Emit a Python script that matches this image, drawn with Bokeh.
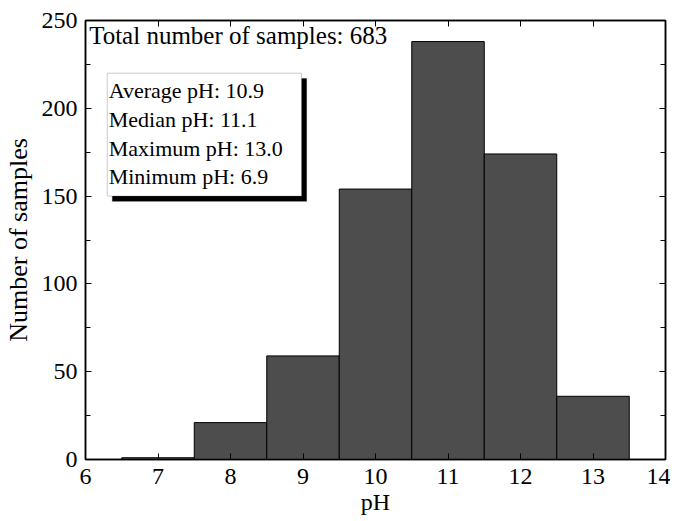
from bokeh.plotting import figure
from bokeh.models import LinearAxis, Label, FixedTicker, BoxAnnotation
from bokeh.embed import file_html
from bokeh.resources import INLINE

ph_bins = [7, 8, 9, 10, 11, 12, 13]
counts = [1, 21, 59, 154, 238, 174, 36]
total_text = "Total number of samples: 683"
stats_lines = ["Average pH: 10.9", "Median pH: 11.1", "Maximum pH: 13.0", "Minimum pH: 6.9"]
x_ticks = [6, 7, 8, 9, 10, 11, 12, 13, 14]
y_ticks = [0, 50, 100, 150, 200, 250]
y_minor = [25, 75, 125, 175, 225]

FONT = "Liberation Serif"

p = figure(width=670, height=517, x_range=(6, 14), y_range=(0, 250),
           output_backend="svg", toolbar_location=None,
           min_border_left=85, min_border_right=5, min_border_top=20, min_border_bottom=40)
p.grid.visible = False
p.outline_line_color = "black"
p.outline_line_width = 1.5
p.background_fill_color = "white"

p.vbar(x=ph_bins, top=counts, width=1.0, bottom=0, fill_color="#4d4d4d",
       line_color="black", line_width=1)

for ax in p.xaxis:
    ax.ticker = FixedTicker(ticks=x_ticks)
for ax in p.yaxis:
    ax.ticker = FixedTicker(ticks=y_ticks, minor_ticks=y_minor)

def style(ax, labels=True):
    ax.axis_line_color = "black"
    ax.axis_line_width = 1.5
    ax.major_tick_in = 6
    ax.major_tick_out = 0
    ax.minor_tick_in = 5
    ax.minor_tick_out = 0
    ax.major_tick_line_color = "black"
    ax.minor_tick_line_color = "black"
    ax.major_label_text_font = FONT
    ax.major_label_text_font_size = "24px" if labels else "1px"
    ax.major_label_text_color = "black" if labels else None
    ax.axis_label_text_font = FONT
    ax.axis_label_text_font_size = "24px"
    ax.axis_label_text_font_style = "normal"
    ax.axis_label_text_color = "black"
    ax.major_label_standoff = 8 if labels else 0

for ax in p.xaxis:
    style(ax)
    ax.minor_tick_line_color = None
    ax.axis_label = "pH"
    ax.axis_label_standoff = 2
    ax.major_label_standoff = 9
for ax in p.yaxis:
    style(ax)
    ax.axis_label = "Number of samples"
    ax.axis_label_text_font_size = "26px"
    ax.axis_label_standoff = 6

top_ax = LinearAxis(ticker=FixedTicker(ticks=x_ticks))
style(top_ax, labels=False)
top_ax.minor_tick_line_color = None
p.add_layout(top_ax, "above")
right_ax = LinearAxis(ticker=FixedTicker(ticks=y_ticks, minor_ticks=y_minor))
style(right_ax, labels=False)
p.add_layout(right_ax, "right")

p.add_layout(Label(x=6.05, y=249, text=total_text, text_font=FONT, text_font_size="25px",
                   text_baseline="top", text_color="black"))

# shadow and box
p.add_layout(BoxAnnotation(left=6.37, right=9.05, bottom=147.0, top=217.0,
                           fill_color="black", fill_alpha=1, line_color="black"))
p.add_layout(BoxAnnotation(left=6.30, right=8.98, bottom=150.0, top=220.0,
                           fill_color="white", fill_alpha=1, line_color="#555555", line_width=1))

for i, t in enumerate(stats_lines):
    p.add_layout(Label(x=6.32, y=217 - i * 16.3, text=t, text_font=FONT, text_font_size="22px",
                       text_baseline="top", text_color="black"))

open("out.html", "w").write(file_html(p, INLINE))
